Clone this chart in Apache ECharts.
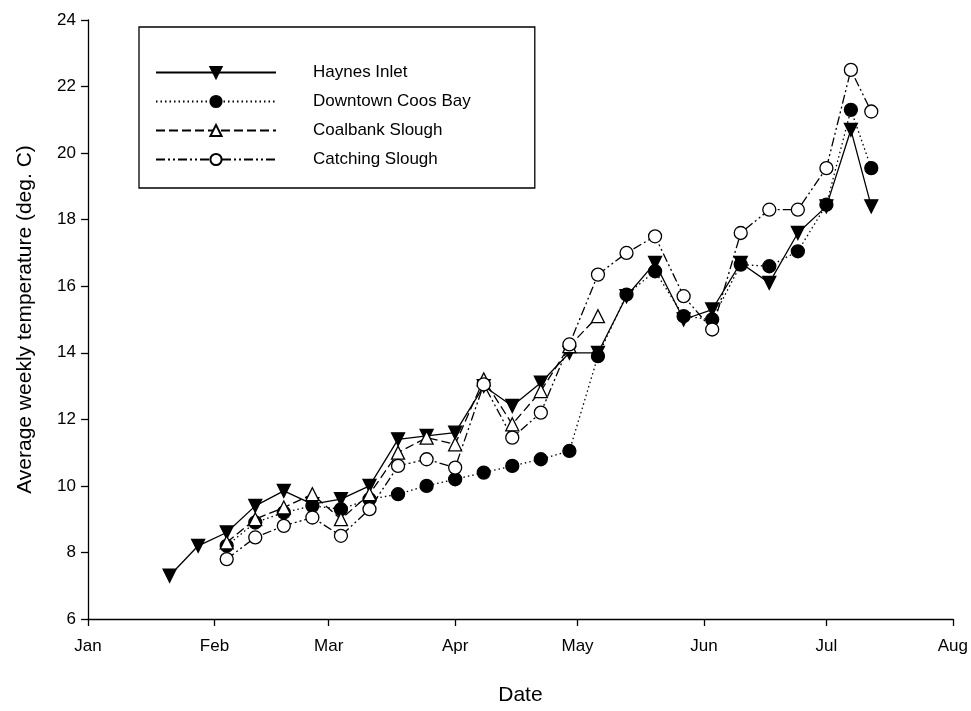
<!DOCTYPE html>
<html><head><meta charset="utf-8">
<script src="https://cdn.jsdelivr.net/npm/echarts@6/dist/echarts.min.js"></script>
<style>html,body{margin:0;background:#fff}#c{width:971px;height:711px}</style>
</head><body><div id="c"></div>
<script>
// x = day of year (Jan 1 = 0)
const monthDays = [0,31,59,90,120,151,181,212];
const monthLabels = ['Jan','Feb','Mar','Apr','May','Jun','Jul','Aug'];
const days = [20,27,34,41,48,55,62,69,76,83,90,97,104,111,118,125,132,139,146,153,160,167,174,181,187,192];
const haynes =   [7.3,8.2,8.6,9.4,9.85,9.45,9.6,10.0,11.4,11.5,11.6,13.0,12.4,13.1,14.0,14.0,15.7,16.7,15.0,15.3,16.7,16.1,17.6,18.4,20.7,18.4];
const downtown = [null,null,8.2,8.9,9.2,9.4,9.3,9.6,9.75,10.0,10.2,10.4,10.6,10.8,11.05,13.9,15.75,16.45,15.1,15.0,16.65,16.6,17.05,18.45,21.3,19.55];
const coalbank = [null,null,8.3,9.0,9.35,9.75,9.0,9.75,11.0,11.45,11.25,13.2,11.85,12.85,14.2,15.1,null,null,null,null,null,null,null,null,null,null];
const catching = [null,null,7.8,8.45,8.8,9.05,8.5,9.3,10.6,10.8,10.55,13.05,11.45,12.2,14.25,16.35,17.0,17.5,15.7,14.7,17.6,18.3,18.3,19.55,22.5,21.25];
const pair = a => days.map((d,i)=>[d,a[i]]).filter(p=>p[1]!=null);
const chart = echarts.init(document.getElementById('c'));
const font = 'Liberation Sans, Arial, sans-serif';
const mk = (name,data,sym,fill,type,rot) => ({
  name, type:'line', data:pair(data), symbol:sym, symbolSize:13, symbolRotate:rot||0,
  lineStyle:{color:'#000',width:1.3,type}, itemStyle:{color:fill,borderColor:'#000',borderWidth:1.3},
  emphasis:{disabled:true}, animation:false, z: 2
});
chart.setOption({
  animation:false,
  grid:{left:88,right:18,top:20,bottom:91},
  legend:{left:139,top:27,orient:'vertical',itemWidth:120,itemHeight:14,itemGap:12,
    padding:[37,64,20,16],borderColor:'#000',borderWidth:1.3,
    textStyle:{fontFamily:font,fontSize:17,color:'#000',padding:[0,0,0,32]},
    data:['Haynes Inlet','Downtown Coos Bay','Coalbank Slough','Catching Slough']},
  xAxis:{type:'value',min:0,max:212,name:'Date',nameLocation:'middle',nameGap:66,
    nameTextStyle:{fontFamily:font,fontSize:21,color:'#000'},
    axisLine:{lineStyle:{color:'#000',width:1.3}},
    axisTick:{show:true,length:7,inside:false,customValues:monthDays,lineStyle:{color:'#000',width:1.3}},
    axisLabel:{customValues:monthDays,fontFamily:font,fontSize:17,color:'#000',margin:19,
      formatter:v=>monthLabels[monthDays.indexOf(v)]},
    splitLine:{show:false}},
  yAxis:{type:'value',min:6,max:24,interval:2,name:'Average weekly temperature (deg. C)',
    nameLocation:'middle',nameGap:52,nameTextStyle:{fontFamily:font,fontSize:21,color:'#000'},
    axisLine:{show:true,lineStyle:{color:'#000',width:1.3}},
    axisTick:{show:true,length:7,lineStyle:{color:'#000',width:1.3}},
    axisLabel:{fontFamily:font,fontSize:17,color:'#000',margin:12},
    splitLine:{show:false}},
  series:[
    mk('Haynes Inlet',haynes,'triangle','#000','solid',180),
    mk('Downtown Coos Bay',downtown,'circle','#000',[1.5,3]),
    mk('Coalbank Slough',coalbank,'triangle','#fff',[9,4]),
    mk('Catching Slough',catching,'circle','#fff',[9,3,2,3,2,3])
  ]
});
</script></body></html>
